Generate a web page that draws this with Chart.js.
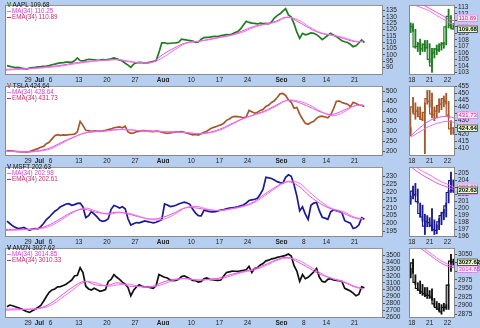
<!DOCTYPE html>
<html>
<head>
<meta charset="utf-8">
<script src="https://cdn.jsdelivr.net/npm/chart.js@4/dist/chart.umd.min.js"></script>
<style>
html, body { margin: 0; padding: 0; width: 480px; height: 328px; overflow: hidden; background: #b6cff0; }
canvas { position: absolute; }
.leg { position: absolute; font: 6.3px 'Liberation Sans', Arial, sans-serif; line-height: 6px; white-space: nowrap; color: #111; }
.leg .mk { display: inline-block; width: 4px; height: 1.5px; margin-right: 1px; vertical-align: middle; }
</style>
</head>
<body>
<script>
/*global Chart, document*/
(function () {

    'use strict';

    // ------------------------------------------------------- //
    // Data (half-day points, Jun 23 .. Sep 22 trading days)
    // ------------------------------------------------------ //
    var dayTicks = [4, 6, 8, 13, 18, 23, 28, 33, 38, 43, 49, 53, 57, 62];
    var dayLabels = ['29', 'Jul', '6', '13', '20', '27', 'Aug', '10', '17', '24', 'Sep', '8', '14', '21'];
    var maDays = [0, 2, 4, 6, 8, 10, 12, 14, 16, 18, 20, 22, 24, 26, 28, 30, 32, 34, 36, 38, 40, 42, 44, 46, 48, 50, 52, 54, 56, 58, 60, 62, 63.5];

    var aaplPrice = [91.6, 91.0, 90.5, 90.0, 90.2, 89.6, 89.2, 88.8, 89.6, 90.1, 90.3, 90.6, 90.8, 91.1, 91.3, 91.6,
        92.3, 92.8, 93.4, 93.8, 94.0, 94.3, 94.4, 94.2, 95.4, 97.6, 95.6, 95.2, 96.0, 96.6, 96.4, 96.2,
        95.8, 95.9, 96.4, 96.1, 96.5, 97.0, 97.6, 96.9, 96.0, 95.2, 93.5, 92.0, 90.2, 92.8, 93.8, 94.1,
        93.9, 93.6, 94.0, 94.3, 95.0, 95.6, 102.0, 109.5, 109.6, 108.9, 109.2, 109.4, 109.5, 110.0, 112.4, 112.0,
        111.6, 111.3, 111.0, 109.9, 110.2, 112.4, 113.6, 113.8, 114.0, 114.4, 114.7, 114.5, 115.3, 115.6, 116.0, 115.9,
        116.4, 117.6, 118.4, 120.5, 123.5, 126.5, 125.6, 125.0, 124.8, 124.4, 125.0, 124.6, 124.8, 124.5, 126.0, 129.0,
        131.0, 132.4, 134.5, 136.5, 131.5, 129.8, 124.5, 118.0, 113.0, 117.0, 115.8, 116.4, 117.4, 117.0, 116.0, 114.2,
        112.0, 113.6, 115.5, 117.0, 115.6, 114.6, 112.8, 111.2, 110.4, 109.8, 108.4, 106.5, 107.2, 109.4, 111.8, 109.68];
    var aaplMa = [88.0, 88.5, 89.0, 89.6, 90.3, 91.3, 92.8, 94.0, 95.2, 95.8, 96.3, 95.0, 93.8, 94.0, 98.0, 104.0, 109.0,
        110.6, 111.8, 113.6, 115.3, 117.8, 121.5, 124.0, 125.8, 129.5, 127.5, 122.0, 117.5, 115.6, 113.8, 111.0, 110.25];
    var aaplEma = [88.6, 89.0, 89.3, 90.0, 90.9, 92.0, 93.5, 94.6, 95.4, 96.0, 96.2, 94.6, 94.0, 94.3, 100.5, 105.5, 109.5,
        110.5, 112.2, 114.0, 115.6, 118.8, 122.3, 124.3, 126.5, 129.8, 126.0, 121.0, 117.0, 115.5, 113.0, 110.5, 110.89];

    var tslaPrice = [203, 202, 201, 199, 198, 197, 196, 195, 198, 203, 208, 213, 220, 224, 238, 245,
        262, 278, 283, 280, 282, 281, 283, 284, 286, 297, 350, 330, 305, 303, 300, 302,
        301, 300, 302, 305, 309, 312, 318, 320, 322, 318, 326, 297, 290, 292, 298, 300,
        304, 303, 301, 300, 298, 301, 300, 296, 292, 289, 292, 295, 297, 296, 298, 295,
        290, 287, 282, 284, 281, 288, 295, 300, 310, 318, 322, 328, 332, 340, 355, 362,
        372, 375, 374, 372, 368, 372, 405, 398, 391, 396, 405, 410, 425, 432, 445, 453,
        470, 488, 490, 480, 458, 446, 416, 420, 386, 362, 340, 335, 344, 350, 365, 374,
        376, 372, 368, 383, 412, 450, 453, 445, 440, 436, 424, 446, 440, 432, 430, 424.64];
    var tslaMa = [200, 198, 196, 200, 212, 240, 268, 292, 300, 302, 308, 308, 302, 300, 298, 296, 294,
        288, 291, 305, 332, 360, 380, 398, 425, 455, 452, 432, 400, 378, 395, 428, 428.64];
    var tslaEma = [201, 199, 198, 203, 218, 245, 270, 290, 298, 303, 309, 307, 303, 301, 298, 296, 293,
        289, 294, 310, 336, 362, 382, 402, 430, 455, 445, 422, 397, 385, 405, 428, 431.73];

    var msftPrice = [201.5, 200.0, 198.5, 197.5, 196.8, 197.0, 197.5, 196.5, 195.8, 196.4, 196.8, 196.6, 198.0, 200.0, 202.5, 204.0,
        206.0, 207.8, 209.0, 210.6, 211.5, 212.4, 212.6, 211.6, 212.0, 212.8, 213.0, 210.5, 203.8, 205.0, 207.6, 206.0,
        204.2, 202.0, 201.4, 201.8, 203.0, 209.0, 211.4, 210.8, 209.8, 210.6, 209.4, 203.0, 199.0, 199.8, 200.6, 200.4,
        201.0, 201.6, 201.2, 200.8, 200.4, 200.8, 201.6, 202.4, 212.4, 211.8, 210.8, 211.0, 211.6, 212.4, 213.0, 213.6,
        213.0, 212.2, 209.0, 206.6, 205.0, 204.8, 208.4, 208.0, 207.6, 207.4, 207.6, 208.0, 208.6, 208.8, 209.4, 209.8,
        210.0, 210.2, 210.6, 211.2, 211.8, 213.0, 214.6, 215.0, 215.4, 216.0, 218.6, 221.8, 229.4, 229.0, 228.6, 227.6,
        226.6, 226.0, 225.6, 229.4, 231.0, 230.0, 224.6, 217.4, 208.0, 210.6, 206.0, 202.6, 211.6, 213.0, 213.4, 208.0,
        204.0, 203.4, 202.6, 207.4, 208.6, 208.2, 207.6, 206.8, 201.8, 201.0, 200.2, 196.8, 197.4, 199.0, 203.6, 202.63];
    var msftMa = [195.5, 195.8, 196.2, 196.6, 198.5, 202.5, 207.0, 209.8, 208.0, 206.0, 206.8, 206.4, 204.2, 202.4, 202.6, 205.8, 210.0,
        210.8, 209.0, 208.2, 209.2, 210.6, 213.0, 217.5, 222.5, 226.5, 226.0, 220.0, 214.0, 209.5, 207.5, 204.0, 202.98];
    var msftEma = [196.2, 196.3, 196.4, 197.0, 199.5, 203.6, 207.5, 209.0, 207.2, 206.4, 207.2, 205.8, 204.0, 202.8, 204.0, 206.8, 210.0,
        209.8, 208.6, 208.4, 209.4, 211.0, 213.6, 218.6, 223.2, 226.6, 224.0, 217.5, 212.5, 209.0, 206.5, 203.5, 202.61];

    var amznPrice = [2750, 2775, 2765, 2750, 2735, 2720, 2700, 2680, 2668, 2690, 2715, 2740, 2770, 2830, 2900, 2960,
        2995, 3010, 3040, 3045, 3060, 3080, 3110, 3140, 3200, 3210, 3320, 3250, 3050, 3010, 2995, 3020,
        3000, 2975, 2985, 3000, 3120, 3150, 3220, 3180, 3150, 3110, 3080, 3030, 2910, 2990, 3040, 3070,
        3050, 3040, 3040, 3030, 3020, 3060, 3220, 3200, 3180, 3170, 3140, 3130, 3135, 3150, 3190, 3200,
        3180, 3160, 3135, 3130, 3110, 3120, 3160, 3170, 3150, 3145, 3140, 3135, 3140, 3200, 3250, 3260,
        3270, 3268, 3265, 3275, 3280, 3290, 3340, 3250, 3310, 3320, 3360, 3380, 3420, 3430, 3450, 3455,
        3470, 3480, 3490, 3500, 3520, 3490, 3350, 3270, 3120, 3220, 3160, 3180, 3220, 3260, 3310, 3180,
        3120, 3110, 3150, 3160, 3140, 3135, 3130, 3120, 3020, 3000, 2980, 2950, 2910, 2930, 3040, 3027.62];
    var amznMa = [2700, 2705, 2715, 2725, 2770, 2880, 3000, 3110, 3100, 3050, 3070, 3080, 3040, 3040, 3080, 3140, 3160,
        3140, 3145, 3155, 3200, 3250, 3285, 3340, 3420, 3460, 3430, 3340, 3240, 3160, 3120, 3050, 3014.85];
    var amznEma = [2715, 2718, 2712, 2730, 2800, 2920, 3040, 3120, 3070, 3060, 3100, 3050, 3050, 3045, 3110, 3150, 3160,
        3140, 3150, 3170, 3220, 3260, 3300, 3360, 3430, 3470, 3400, 3310, 3220, 3165, 3110, 3040, 3010.33];

    var aaplTicks = [90, 95, 100, 105, 110, 115, 120, 125, 130, 135];
    var tslaTicks = [200, 250, 300, 350, 400, 450, 500];
    var msftTicks = [195, 200, 205, 210, 215, 220, 225, 230];
    var amznTicks = [2600, 2700, 2800, 2900, 3000, 3100, 3200, 3300, 3400, 3500];

    // ------------------------------------------------------- //
    // Data: last hourly bars (Sep 18 .. Sep 22)
    // ------------------------------------------------------ //
    var barTicks = [0.5, 8, 15.5];
    var barLabels = ['18', '21', '22'];
    var barMaPos = [0, 4, 8, 12, 16, 18.5];

    var aaplLow = [109.1, 109.3, 106.7, 106.2, 105.7, 106.2, 106.2, 106.7, 104.5, 103.0, 105.2, 105.7, 106.2, 106.4, 106.7, 107.2, 109.8, 109.8, 109.6];
    var aaplHigh = [110.6, 110.5, 109.6, 107.6, 108.1, 107.4, 107.9, 107.9, 107.4, 106.7, 106.7, 107.2, 107.4, 107.6, 107.6, 110.1, 112.7, 111.7, 110.5];
    var aaplClose = [110.3, 110.0, 106.9, 107.0, 107.4, 106.6, 107.3, 106.8, 105.0, 104.0, 106.0, 106.6, 106.4, 107.2, 107.4, 110.0, 111.6, 110.2, 109.68];
    var aaplBarMa = [113.5, 113.0, 112.4, 111.5, 110.7, 110.25];
    var aaplBarEma = [114.5, 113.6, 112.8, 112.0, 111.2, 110.89];

    var tslaLow = [419, 436, 431, 433, 431, 430, 406, 442, 440, 432, 430, 432, 436, 438, 440, 442, 432, 420, 420];
    var tslaHigh = [425, 447, 443, 440, 440, 436, 443, 452, 452, 450, 440, 441, 446, 446, 448, 450, 444, 430, 425];
    var tslaClose = [421, 440, 435, 437, 433, 431, 436, 446, 444, 435, 434, 437, 441, 442, 446, 444, 434, 424, 424.64];
    var tslaBarMa = [418, 422, 426, 428.5, 429.5, 428.64];
    var tslaBarEma = [419, 425, 430, 432.5, 433, 431.73];

    var msftLow = [200.6, 201.4, 201.8, 200.8, 198.8, 198.2, 196.3, 197.4, 197.4, 196.8, 196.3, 196.4, 197.0, 197.7, 198.4, 198.8, 200.8, 202.3, 202.3];
    var msftHigh = [201.8, 203.2, 203.6, 202.8, 200.8, 200.5, 199.2, 199.0, 198.7, 200.0, 198.4, 197.7, 198.6, 199.5, 199.9, 200.8, 202.6, 205.2, 204.1];
    var msftClose = [201.0, 202.5, 202.0, 201.0, 199.3, 198.8, 197.5, 198.2, 198.0, 197.6, 197.0, 196.9, 198.1, 199.0, 199.4, 200.4, 202.3, 204.0, 202.63];
    var msftBarMa = [206.5, 205.5, 204.8, 204.0, 203.4, 202.98];
    var msftBarEma = [206.0, 205.0, 204.2, 203.5, 203.0, 202.61];

    var amznLow = [2981, 2995, 2962, 2944, 2935, 2930, 2926, 2921, 2921, 2916, 2898, 2889, 2884, 2875, 2884, 2889, 2889, 3000, 3018];
    var amznHigh = [3009, 3036, 2990, 2967, 2972, 2962, 2953, 2953, 2944, 2949, 2921, 2912, 2907, 2903, 2907, 2903, 2962, 3050, 3036];
    var amznClose = [2990, 3025, 2968, 2950, 2945, 2940, 2935, 2930, 2930, 2925, 2905, 2895, 2890, 2882, 2895, 2895, 2960, 3030, 3027.62];
    var amznBarMa = [3090, 3075, 3055, 3035, 3020, 3014.85];
    var amznBarEma = [3085, 3068, 3048, 3028, 3014, 3010.33];

    var aaplBarTicks = [103, 104, 105, 106, 107, 108, 109, 110, 111, 112, 113];
    var tslaBarTicks = [410, 415, 420, 425, 430, 435, 440, 445, 450, 455];
    var msftBarTicks = [196, 197, 198, 199, 200, 201, 202, 203, 204, 205];
    var amznBarTicks = [2875, 2900, 2925, 2950, 2975, 3000, 3025, 3050];

    // ------------------------------------------------------- //
    // Styles
    // ------------------------------------------------------ //
    var FONT = "'Liberation Sans', Arial, sans-serif";
    var maColor = '#f46cf4';
    var emaColor = '#e452d8';
    var maText = '#d83ad8';
    var emaText = '#cc2a66';

    var panels = [
        { name: 'AAPL', color: '#1f7d1f', price: aaplPrice, ma: aaplMa, ema: aaplEma, ticks: aaplTicks, min: 84.2, max: 139.4,
          low: aaplLow, high: aaplHigh, close: aaplClose, bma: aaplBarMa, bema: aaplBarEma, bticks: aaplBarTicks, bmin: 102.6, bmax: 113.35 },
        { name: 'TSLA', color: '#a5582a', price: tslaPrice, ma: tslaMa, ema: tslaEma, ticks: tslaTicks, min: 176, max: 528,
          low: tslaLow, high: tslaHigh, close: tslaClose, bma: tslaBarMa, bema: tslaBarEma, bticks: tslaBarTicks, bmin: 404.3, bmax: 455.3 },
        { name: 'MSFT', color: '#1a1a92', price: msftPrice, ma: msftMa, ema: msftEma, ticks: msftTicks, min: 191.4, max: 236,
          low: msftLow, high: msftHigh, close: msftClose, bma: msftBarMa, bema: msftBarEma, bticks: msftBarTicks, bmin: 195.95, bmax: 205.95 },
        { name: 'AMZN', color: '#111111', price: amznPrice, ma: amznMa, ema: amznEma, ticks: amznTicks, min: 2586, max: 3609,
          low: amznLow, high: amznHigh, close: amznClose, bma: amznBarMa, bema: amznBarEma, bticks: amznBarTicks, bmin: 2864, bmax: 3068.5 }
    ];

    function last(a) { return a[a.length - 1]; }
    function fmt(v) { return v.toFixed(2); }

    // white plot area with a thin frame
    var framePlugin = {
        id: 'frame',
        beforeDraw: function (chart) {
            var a = chart.chartArea, c = chart.ctx;
            c.save();
            c.fillStyle = '#ffffff';
            c.fillRect(a.left, a.top, a.right - a.left, a.bottom - a.top);
            c.restore();
        },
        afterDraw: function (chart) {
            var a = chart.chartArea, c = chart.ctx;
            c.save();
            c.strokeStyle = '#8a8a8a';
            c.lineWidth = 1;
            c.strokeRect(a.left + 0.5, a.top + 0.5, a.right - a.left - 1, a.bottom - a.top - 1);
            c.restore();
        }
    };

    // value tags at the right of the bar panels
    var tagPlugin = {
        id: 'tags',
        afterDraw: function (chart, args, opts) {
            if (!opts.items) { return; }
            var c = chart.ctx, y = chart.scales.y, a = chart.chartArea;
            c.save();
            c.textBaseline = 'middle';
            opts.items.forEach(function (t) {
                var py = Math.round(y.getPixelForValue(t.value)) + (t.shift || 0);
                c.fillStyle = t.bg;
                c.fillRect(a.right + 2, py - 3.5, 21, 7);
                c.strokeStyle = t.border;
                c.lineWidth = 0.8;
                c.strokeRect(a.right + 2.5, py - 3, 20, 6.5);
                c.fillStyle = t.text;
                c.font = (t.bold ? 'bold ' : '') + '6px ' + FONT;
                c.fillText(fmt(t.value), a.right + 3.5, py + 0.3);
            });
            c.restore();
        }
    };

    function yScale(ticks, min, max, width) {
        return {
            type: 'linear',
            position: 'right',
            min: min,
            max: max,
            afterBuildTicks: function (s) { s.ticks = ticks.map(function (v) { return { value: v }; }); },
            afterFit: function (s) { s.width = width; },
            grid: { drawOnChartArea: false, tickLength: 2, color: '#555' },
            border: { display: false },
            ticks: {
                padding: 1,
                color: '#222',
                font: { family: FONT, size: 6.5 },
                autoSkip: false,
                callback: function (v) { return String(v); }
            }
        };
    }

    function xScale(min, max, ticks, labels) {
        return {
            type: 'linear',
            min: min,
            max: max,
            afterBuildTicks: function (s) { s.ticks = ticks.map(function (v) { return { value: v }; }); },
            afterFit: function (s) { s.height = 7; },
            grid: { display: false, drawTicks: false },
            border: { display: false },
            ticks: {
                padding: 1,
                color: '#222',
                autoSkip: false,
                maxRotation: 0,
                font: function (ctx) {
                    var lab = labels[ticks.indexOf(ctx.tick && ctx.tick.value)];
                    return { family: FONT, size: 6.5, weight: /[A-Za-z]/.test(lab || '') ? 'bold' : 'normal' };
                },
                callback: function (v) { return labels[ticks.indexOf(v)]; }
            }
        };
    }

    function addCanvas(left, top, w, h) {
        var cv = document.createElement('canvas');
        cv.width = w;
        cv.height = h;
        cv.style.left = left + 'px';
        cv.style.top = top + 'px';
        cv.style.width = w + 'px';
        cv.style.height = h + 'px';
        document.body.appendChild(cv);
        return cv;
    }

    var baseOptions = {
        responsive: false,
        animation: false,
        events: [],
        plugins: { legend: { display: false }, tooltip: { enabled: false } }
    };

    panels.forEach(function (p, n) {
        var top = n * 81;

        // ------------------------------------------------------- //
        // Main hourly panel
        // ------------------------------------------------------ //
        var priceData = p.price.map(function (v, j) { return { x: j * 0.5 + 0.25, y: v }; });
        var maData = p.ma.map(function (v, j) { return { x: maDays[j], y: v }; });
        var emaData = p.ema.map(function (v, j) { return { x: maDays[j], y: v }; });

        new Chart(addCanvas(0, top, 406, 82), {
            type: 'line',
            data: {
                datasets: [
                    { data: maData, borderColor: maColor, borderWidth: 1, pointRadius: 0, tension: 0.4 },
                    { data: emaData, borderColor: emaColor, borderWidth: 1, pointRadius: 0, tension: 0.4 },
                    { data: priceData, borderColor: p.color, borderWidth: 1.7, pointRadius: 0, tension: 0 }
                ]
            },
            options: Object.assign({}, baseOptions, {
                layout: { padding: { top: 1, left: 5, right: 0, bottom: 0 } },
                scales: {
                    x: xScale(-0.1, 67.05, dayTicks, dayLabels),
                    y: yScale(p.ticks, p.min, p.max, 23)
                }
            }),
            plugins: [framePlugin]
        });

        // ------------------------------------------------------- //
        // Small bar panel
        // ------------------------------------------------------ //
        var bars = p.low.map(function (v, k) { return { x: k, y: [v, p.high[k]] }; });
        var closes = p.close.map(function (v, k) { return { x: k, y: v }; });
        var bMa = p.bma.map(function (v, k) { return { x: barMaPos[k], y: v }; });
        var bEma = p.bema.map(function (v, k) { return { x: barMaPos[k], y: v }; });

        new Chart(addCanvas(404, top, 76, 82), {
            type: 'bar',
            data: {
                datasets: [
                    { type: 'line', data: bMa, borderColor: maColor, borderWidth: 1, pointRadius: 0, tension: 0.4 },
                    { type: 'line', data: bEma, borderColor: emaColor, borderWidth: 1, pointRadius: 0, tension: 0.4 },
                    { type: 'bar', data: bars, backgroundColor: p.color, barThickness: 1.2, grouped: false },
                    { type: 'line', data: closes, borderColor: p.color, borderWidth: 1.2, pointRadius: 0, stepped: 'after' }
                ]
            },
            options: Object.assign({}, baseOptions, {
                layout: { padding: { top: 1, left: 5, right: 0, bottom: 0 } },
                scales: {
                    x: Object.assign(xScale(-0.7, 18.7, barTicks, barLabels), { offset: false }),
                    y: yScale(p.bticks, p.bmin, p.bmax, 25)
                },
                plugins: {
                    legend: { display: false },
                    tooltip: { enabled: false },
                    tags: {
                        items: [
                            { value: last(p.ema), bg: '#ffe8ff', border: maColor, text: emaText, shift: -3 },
                            { value: last(p.ma), bg: '#ffe8ff', border: maColor, text: maText, shift: 3 },
                            { value: last(p.price), bg: '#e8ffcc', border: '#333', text: '#000', bold: true, shift: 0 }
                        ]
                    }
                }
            }),
            plugins: [framePlugin, tagPlugin]
        });

        // ------------------------------------------------------- //
        // Legend text
        // ------------------------------------------------------ //
        var leg = document.createElement('div');
        leg.className = 'leg';
        leg.style.left = '7px';
        leg.style.top = (top + 2) + 'px';
        leg.innerHTML = '<div><span style="color:' + p.color + ';font-weight:bold">V</span> ' + p.name + ' ' + fmt(last(p.price)) + '</div>' +
            '<div style="color:' + maText + '"><span class="mk" style="background:' + maColor + '"></span>MA(34) ' + fmt(last(p.ma)) + '</div>' +
            '<div style="color:' + emaText + '"><span class="mk" style="background:' + emaText + '"></span>EMA(34) ' + fmt(last(p.ema)) + '</div>';
        document.body.appendChild(leg);
    });

}());
</script>
</body>
</html>
